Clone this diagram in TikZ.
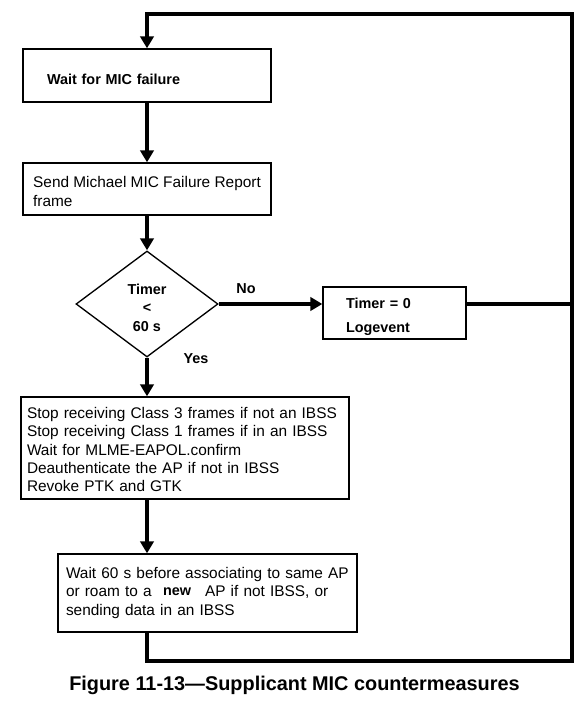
\documentclass[tikz,border=0pt]{standalone}
\usepackage{fontspec}
\setmainfont{Liberation Sans}
\usetikzlibrary{shapes.geometric,arrows.meta}
\newcommand{\lowstrut}{\rule{0pt}{13pt}}
\begin{document}
\begin{tikzpicture}[x=0.75pt,y=-0.75pt,
 box/.style={draw,line width=1pt,fill=white,rectangle,align=left,inner ysep=0pt,font=\fontsize{11.55}{13.9}\selectfont},
 flow/.style={line width=2.4pt,-{Triangle[length=9pt,width=10pt]}},
 link/.style={line width=2.4pt},
 bl/.style={font=\fontsize{10.8}{13.9}\bfseries\selectfont}]
\useasboundingbox (0,0) rectangle (584,702);
\node[box,bl,minimum height=39.75pt,text width=150pt,inner xsep=18pt] (B1) at (147,75.5) {\lowstrut Wait for MIC failure};
\node[box,minimum height=39pt,minimum width=186pt,font=\fontsize{11.55}{14.2}\selectfont] (B2) at (147,189) {\rule{0pt}{11.5pt}Send Michael MIC Failure Report\\frame\hspace*{100pt}};
\node[draw,line width=1pt,diamond,minimum width=106.5pt,minimum height=79.5pt,inner sep=0pt,align=center,bl] (D) at (147,304) {\lowstrut Timer\\<\\60 s};
\node[box,minimum height=39pt,text width=72.75pt,inner xsep=17.25pt,font=\fontsize{10.8}{18}\bfseries\selectfont] (T) at (394.5,313) {\lowstrut Timer = 0\\Logevent};
\node[box,minimum height=76.5pt,text width=237pt,inner xsep=4.5pt,font=\fontsize{11.55}{13.7}\selectfont] (B3) at (185,448) {\rule{0pt}{11pt}Stop receiving Class 3 frames if not an IBSS\\Stop receiving Class 1 frames if in an IBSS\\Wait for MLME-EAPOL.confirm\\Deauthenticate the AP if not in IBSS\\Revoke PTK and GTK};
\node[box,minimum height=58.5pt,text width=212.25pt,inner xsep=6pt] (B4) at (207.5,593) {Wait 60 s before associating to same AP\\or roam to a\hspace*{8.6pt}\raisebox{1pt}{\fontsize{10.8}{13.9}\bfseries\selectfont new}\hspace*{10.5pt}AP if not IBSS, or\\sending data in an IBSS};
\coordinate (TR) at (572,14);
\coordinate (BR) at (572,661);
\draw[flow] (B1.south) -- (B2.north);
\draw[flow] (B2.south) -- (D.north);
\draw[flow] (D.east) -- (T.west |- D.east);
\draw[link] (T.east |- D.east) -- (D.east -| TR);
\draw[flow] (D.south) -- (D.south |- B3.north);
\draw[flow] (B3.south -| D.south) -- (D.south |- B4.north);
\draw[flow] (D.south |- B4.south) |- (BR) -- (TR) -| (B1.north);
\node[bl] (no) at (246,289) {No};
\node[bl] (yes) at (196,359) {Yes};
\node[font=\fontsize{14.9}{18}\bfseries\selectfont] (cap) at (294.5,685) {Figure 11-13—Supplicant MIC countermeasures};
\end{tikzpicture}
\end{document}
